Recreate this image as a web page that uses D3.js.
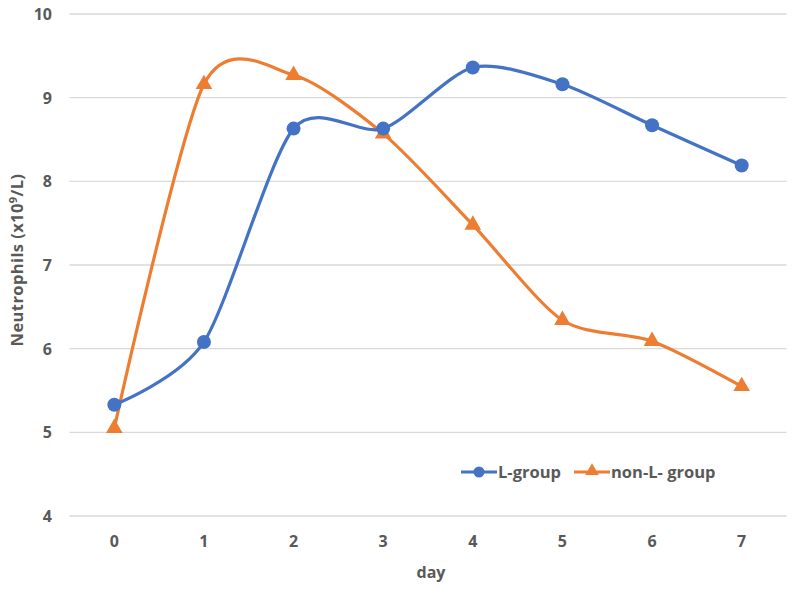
<!DOCTYPE html>
<html>
<head>
<meta charset="utf-8">
<script src="https://cdn.jsdelivr.net/npm/d3@7"></script>
<style>
  body { margin: 0; background: #fff; }
  svg text { font-family: "Open Sans", "Liberation Sans", sans-serif; fill: #595959; font-weight: bold; }
</style>
</head>
<body>
<svg id="chart" width="795" height="590"></svg>
<script>
const days = [0, 1, 2, 3, 4, 5, 6, 7];
const lGroup = [5.33, 6.08, 8.63, 8.63, 9.36, 9.16, 8.67, 8.19];
const nonLGroup = [5.05, 9.16, 9.27, 8.57, 7.48, 6.34, 6.09, 5.55];
const yTicks = [4, 5, 6, 7, 8, 9, 10];
const seriesNames = ['L-group', 'non-L- group'];

const colors = { blue: '#4472C4', orange: '#ED7D31', grid: '#D9D9D9' };

const svg = d3.select('#chart');

const x = d3.scalePoint().domain(days).range([69.5, 786.5]).padding(0.5);
const y = d3.scaleLinear().domain([4, 10]).range([516, 14]);

// gridlines
svg.append('g').selectAll('line')
  .data(yTicks)
  .join('line')
  .attr('x1', 69.5).attr('x2', 786.5)
  .attr('y1', d => y(d)).attr('y2', d => y(d))
  .attr('stroke', colors.grid).attr('stroke-width', 1.3);

// y tick labels
svg.append('g').selectAll('text')
  .data(yTicks)
  .join('text')
  .attr('x', 52).attr('y', d => y(d) + 6)
  .attr('text-anchor', 'end')
  .style('font-size', '16px')
  .text(d => d);

// x tick labels
svg.append('g').selectAll('text')
  .data(days)
  .join('text')
  .attr('x', d => x(d)).attr('y', 547)
  .attr('text-anchor', 'middle')
  .style('font-size', '16px')
  .text(d => d);

// axis titles
svg.append('text')
  .attr('x', 431).attr('y', 578)
  .attr('text-anchor', 'middle')
  .style('font-size', '16px')
  .text('day');

const yTitle = svg.append('text')
  .attr('transform', 'translate(23,260) rotate(-90)')
  .attr('text-anchor', 'middle')
  .style('font-size', '16.5px')
  .style('letter-spacing', '0.4px');
yTitle.append('tspan').text('Neutrophils (x10');
yTitle.append('tspan').attr('dy', -6).style('font-size', '11px').text('9');
yTitle.append('tspan').attr('dy', 6).text('/L)');

const line = d3.line()
  .x((d, i) => x(days[i]))
  .y(d => y(d))
  .curve(d3.curveCardinal.tension(0.2));

const triangle = d3.symbol().type(d3.symbolTriangle).size(120);

function drawSeries(values, color, marker) {
  svg.append('path')
    .datum(values)
    .attr('d', line)
    .attr('fill', 'none')
    .attr('stroke', color)
    .attr('stroke-width', 3.2);
  const g = svg.append('g');
  if (marker === 'circle') {
    g.selectAll('circle')
      .data(values)
      .join('circle')
      .attr('cx', (d, i) => x(days[i]))
      .attr('cy', d => y(d))
      .attr('r', 7)
      .attr('fill', color);
  } else {
    g.selectAll('path')
      .data(values)
      .join('path')
      .attr('d', triangle)
      .attr('transform', (d, i) => `translate(${x(days[i])},${y(d)})`)
      .attr('fill', color);
  }
}

drawSeries(nonLGroup, colors.orange, 'triangle');
drawSeries(lGroup, colors.blue, 'circle');

// legend
const legend = svg.append('g');
const legendItems = [
  { name: seriesNames[0], color: colors.blue, marker: 'circle', x: 461 },
  { name: seriesNames[1], color: colors.orange, marker: 'triangle', x: 574 }
];
legendItems.forEach(item => {
  legend.append('line')
    .attr('x1', item.x).attr('x2', item.x + 36)
    .attr('y1', 472).attr('y2', 472)
    .attr('stroke', item.color).attr('stroke-width', 3.2);
  if (item.marker === 'circle') {
    legend.append('circle').attr('cx', item.x + 18).attr('cy', 472).attr('r', 5.5).attr('fill', item.color);
  } else {
    legend.append('path').attr('d', d3.symbol().type(d3.symbolTriangle).size(80))
      .attr('transform', `translate(${item.x + 18},471)`).attr('fill', item.color);
  }
  legend.append('text')
    .attr('x', item.x + 37).attr('y', 478)
    .style('font-size', '16.5px')
    .text(item.name);
});
</script>
</body>
</html>
